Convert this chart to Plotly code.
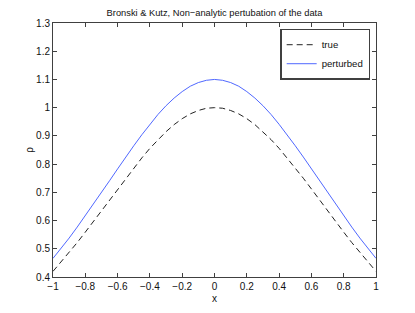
import plotly.graph_objects as go

x_vals = [-1.0, -0.95, -0.9, -0.85, -0.8, -0.75, -0.7, -0.65, -0.6, -0.55, -0.5,
          -0.45, -0.4, -0.35, -0.3, -0.25, -0.2, -0.15, -0.1, -0.05, 0.0,
          0.05, 0.1, 0.15, 0.2, 0.25, 0.3, 0.35, 0.4, 0.45, 0.5,
          0.55, 0.6, 0.65, 0.7, 0.75, 0.8, 0.85, 0.9, 0.95, 1.0]

true_half = [0.420, 0.453, 0.487, 0.522, 0.559, 0.597, 0.635, 0.673, 0.712, 0.750, 0.786,
             0.822, 0.856, 0.887, 0.915, 0.940, 0.961, 0.978, 0.990, 0.998, 1.000]
pert_half = [0.466, 0.501, 0.538, 0.577, 0.617, 0.657, 0.699, 0.741, 0.783, 0.825, 0.865,
             0.904, 0.941, 0.976, 1.007, 1.034, 1.057, 1.076, 1.089, 1.097, 1.100]

true_vals = true_half + true_half[-2::-1]
pert_vals = pert_half + pert_half[-2::-1]

x_tickvals = [-1, -0.8, -0.6, -0.4, -0.2, 0, 0.2, 0.4, 0.6, 0.8, 1]
x_ticktext = ["\u22121", "\u22120.8", "\u22120.6", "\u22120.4", "\u22120.2", "0",
              "0.2", "0.4", "0.6", "0.8", "1"]
y_tickvals = [0.4, 0.5, 0.6, 0.7, 0.8, 0.9, 1.0, 1.1, 1.2, 1.3]
y_ticktext = ["0.4", "0.5", "0.6", "0.7", "0.8", "0.9", "1", "1.1", "1.2", "1.3"]

title_text = "Bronski & Kutz, Non\u2212analytic pertubation of the data"
font_family = "Liberation Sans, Arial, Helvetica, sans-serif"

fig = go.Figure()
fig.add_trace(go.Scatter(x=x_vals, y=true_vals, mode="lines", name="true",
                         line=dict(color="#222222", width=1, dash="6px,4px")))
fig.add_trace(go.Scatter(x=x_vals, y=pert_vals, mode="lines", name="perturbed",
                         line=dict(color="#5068ff", width=1)))

axis_common = dict(showline=True, linecolor="#404040", linewidth=1, mirror="ticks",
                   ticks="inside", ticklen=4, tickcolor="#404040", showgrid=False,
                   zeroline=False, automargin=False,
                   tickfont=dict(size=10, color="#111111"))

fig.update_layout(
    width=415, height=313,
    margin=dict(l=45, r=47, t=15, b=44),
    paper_bgcolor="white", plot_bgcolor="white",
    font=dict(family=font_family, size=10, color="#111111"),
    title=dict(text=title_text, x=0.5, xref="paper", xanchor="center",
               y=0.984, yanchor="middle", font=dict(size=9.3, color="#111111")),
    xaxis=dict(range=[-1, 1], tickvals=x_tickvals, ticktext=x_ticktext,
               title=dict(text="x", standoff=3, font=dict(size=10)), **axis_common),
    yaxis=dict(range=[0.4, 1.3], tickvals=y_tickvals, ticktext=y_ticktext,
               title=dict(text="\u03c1", standoff=0, font=dict(size=10)), **axis_common),
    legend=dict(x=0.982, y=0.9775, xanchor="right", yanchor="top",
                bgcolor="white", bordercolor="#404040", borderwidth=1.5,
                font=dict(size=9.6), tracegroupgap=0, itemwidth=30),
    showlegend=True,
)

fig.write_html("out.html")
